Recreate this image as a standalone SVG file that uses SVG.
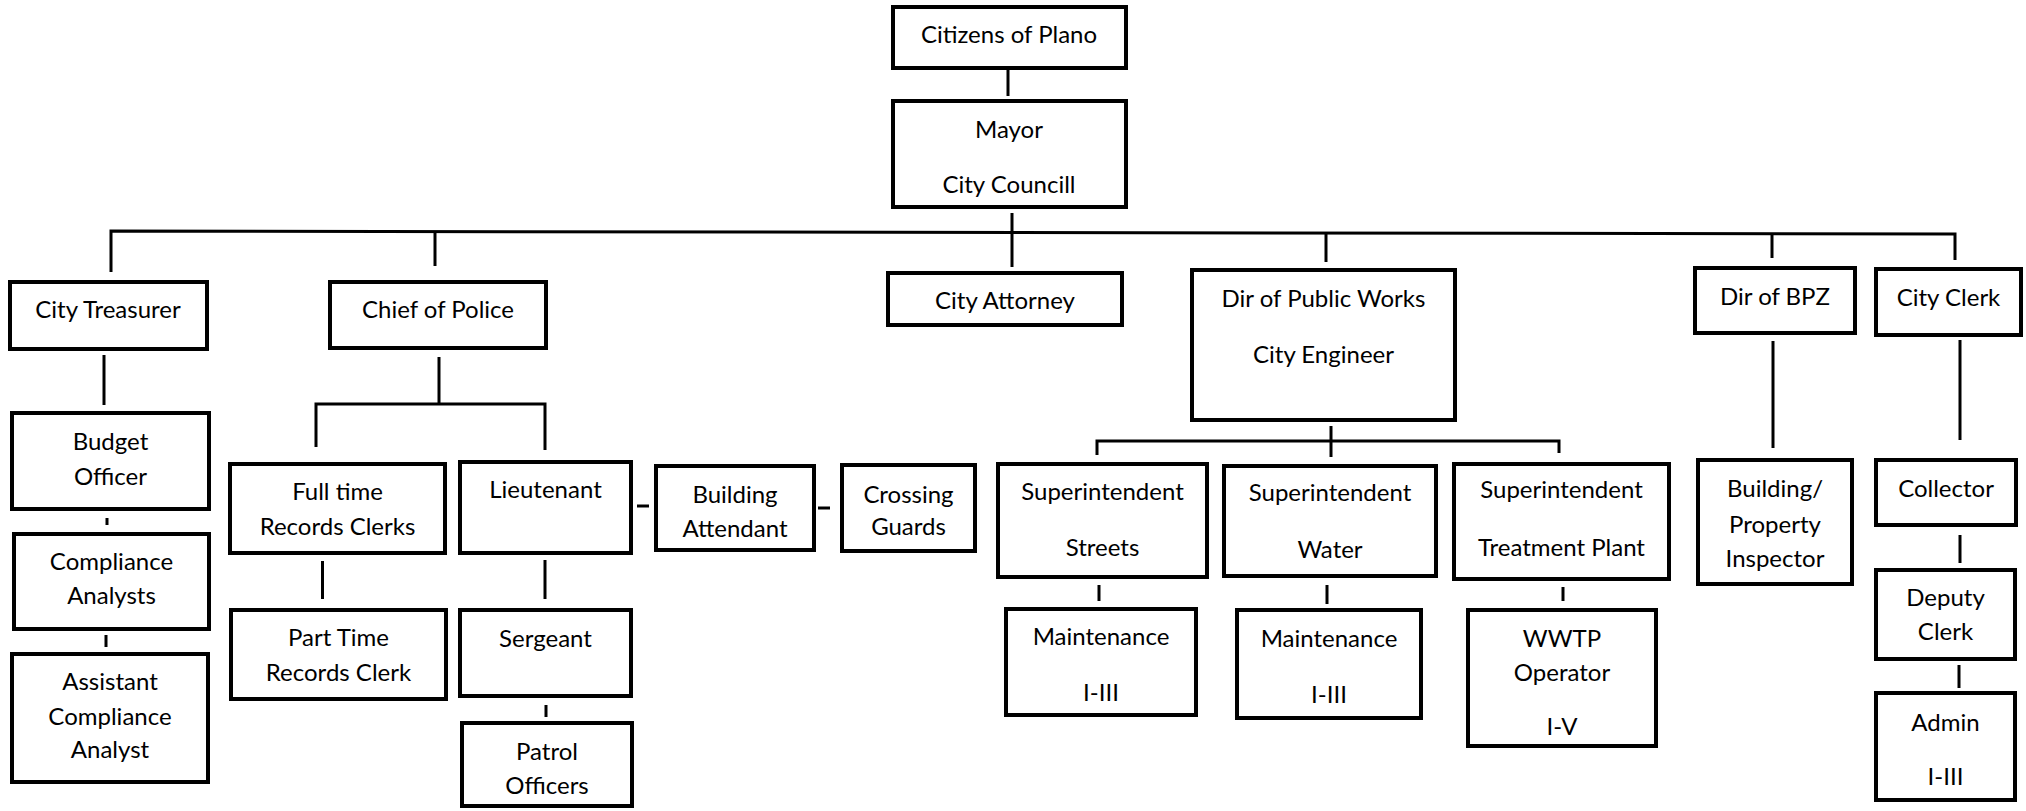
<svg xmlns="http://www.w3.org/2000/svg" width="2026" height="811" viewBox="0 0 2026 811">
<style>
rect.box{fill:#fff;stroke:#000;stroke-width:4}
text{font-family:Lato,"Open Sans","Liberation Sans",sans-serif;font-size:24px;fill:#000;text-anchor:middle}
.conn line,.conn polyline{stroke:#000;stroke-width:3;fill:none}
</style>
<rect width="2026" height="811" fill="#fff"/>
<g class="conn" id="connectors">
<line x1="1008" y1="70" x2="1008" y2="96"/>
<line x1="1012" y1="213" x2="1012" y2="267"/>
<polyline points="111,272 111,231 1955,234 1955,260"/>
<line x1="435" y1="232" x2="435" y2="266"/>
<line x1="1326" y1="233" x2="1326" y2="262"/>
<line x1="1772" y1="233" x2="1772" y2="258"/>
<line x1="104" y1="355" x2="104" y2="405"/>
<line x1="107" y1="518" x2="107" y2="525"/>
<line x1="106" y1="635" x2="106" y2="647"/>
<line x1="439" y1="357" x2="439" y2="404"/>
<polyline points="316,447 316,404 545,404 545,450"/>
<line x1="322.5" y1="561" x2="322.5" y2="599"/>
<line x1="545" y1="560" x2="545" y2="599"/>
<line x1="546" y1="705" x2="546" y2="717"/>
<line x1="637" y1="506" x2="649" y2="506"/>
<line x1="818" y1="508" x2="830" y2="508"/>
<line x1="1331" y1="426" x2="1331" y2="457"/>
<polyline points="1097,455 1097,441 1559,441 1559,453"/>
<line x1="1099" y1="585" x2="1099" y2="601"/>
<line x1="1327" y1="585" x2="1327" y2="604"/>
<line x1="1563" y1="587" x2="1563" y2="601"/>
<line x1="1773" y1="341" x2="1773" y2="448"/>
<line x1="1960" y1="340" x2="1960" y2="440"/>
<line x1="1960" y1="535" x2="1960" y2="563"/>
<line x1="1959" y1="665" x2="1959" y2="688"/>
</g>
<g id="citizens"><rect class="box" x="893" y="7" width="233" height="61"/><text x="1009" y="43">Citizens of Plano</text></g>
<g id="mayor"><rect class="box" x="893" y="101" width="233" height="106"/><text x="1009" y="138">Mayor</text><text x="1009" y="193">City Councill</text></g>
<g id="treasurer"><rect class="box" x="10" y="282" width="197" height="67"/><text x="108" y="318">City Treasurer</text></g>
<g id="police"><rect class="box" x="330" y="282" width="216" height="66"/><text x="438" y="318">Chief of Police</text></g>
<g id="attorney"><rect class="box" x="888" y="273" width="234" height="52"/><text x="1005" y="309">City Attorney</text></g>
<g id="publicworks"><rect class="box" x="1192" y="270" width="263" height="150"/><text x="1323.5" y="307">Dir of Public Works</text><text x="1323.5" y="363">City Engineer</text></g>
<g id="bpz"><rect class="box" x="1695" y="268" width="160" height="65"/><text x="1775" y="305">Dir of BPZ</text></g>
<g id="clerk"><rect class="box" x="1876" y="269" width="145" height="66"/><text x="1948.5" y="306">City Clerk</text></g>
<g id="budget"><rect class="box" x="12" y="413" width="197" height="96"/><text x="110.5" y="450">Budget</text><text x="110.5" y="485">Officer</text></g>
<g id="compliance"><rect class="box" x="14" y="534" width="195" height="95"/><text x="111.5" y="570">Compliance</text><text x="111.5" y="604">Analysts</text></g>
<g id="assistant"><rect class="box" x="12" y="654" width="196" height="128"/><text x="110" y="690">Assistant</text><text x="110" y="725">Compliance</text><text x="110" y="758">Analyst</text></g>
<g id="fulltime"><rect class="box" x="230" y="464" width="215" height="89"/><text x="337.5" y="500">Full time</text><text x="337.5" y="535">Records Clerks</text></g>
<g id="parttime"><rect class="box" x="231" y="610" width="215" height="89"/><text x="338.5" y="646">Part Time</text><text x="338.5" y="681">Records Clerk</text></g>
<g id="lieutenant"><rect class="box" x="460" y="462" width="171" height="91"/><text x="545.5" y="498">Lieutenant</text></g>
<g id="sergeant"><rect class="box" x="460" y="610" width="171" height="86"/><text x="545.5" y="647">Sergeant</text></g>
<g id="patrol"><rect class="box" x="462" y="723" width="170" height="83"/><text x="547" y="760">Patrol</text><text x="547" y="794">Officers</text></g>
<g id="buildingattendant"><rect class="box" x="656" y="466" width="158" height="84"/><text x="735" y="503">Building</text><text x="735" y="537">Attendant</text></g>
<g id="crossing"><rect class="box" x="842" y="465" width="133" height="86"/><text x="908.5" y="503">Crossing</text><text x="908.5" y="535">Guards</text></g>
<g id="supstreets"><rect class="box" x="998" y="464" width="209" height="113"/><text x="1102.5" y="500">Superintendent</text><text x="1102.5" y="556">Streets</text></g>
<g id="supwater"><rect class="box" x="1224" y="466" width="212" height="110"/><text x="1330" y="501">Superintendent</text><text x="1330" y="558">Water</text></g>
<g id="suptreatment"><rect class="box" x="1454" y="464" width="215" height="115"/><text x="1561.5" y="498">Superintendent</text><text x="1561.5" y="556">Treatment Plant</text></g>
<g id="maintstreets"><rect class="box" x="1006" y="609" width="190" height="106"/><text x="1101" y="645">Maintenance</text><text x="1101" y="701">I-III</text></g>
<g id="maintwater"><rect class="box" x="1237" y="610" width="184" height="108"/><text x="1329" y="647">Maintenance</text><text x="1329" y="703">I-III</text></g>
<g id="wwtp"><rect class="box" x="1468" y="610" width="188" height="136"/><text x="1562" y="647">WWTP</text><text x="1562" y="681">Operator</text><text x="1562" y="735">I-V</text></g>
<g id="inspector"><rect class="box" x="1698" y="460" width="154" height="124"/><text x="1775" y="497">Building/</text><text x="1775" y="533">Property</text><text x="1775" y="567">Inspector</text></g>
<g id="collector"><rect class="box" x="1876" y="460" width="140" height="65"/><text x="1946" y="497">Collector</text></g>
<g id="deputy"><rect class="box" x="1876" y="570" width="139" height="89"/><text x="1945.5" y="606">Deputy</text><text x="1945.5" y="640">Clerk</text></g>
<g id="admin"><rect class="box" x="1876" y="693" width="139" height="107"/><text x="1945.5" y="731">Admin</text><text x="1945.5" y="785">I-III</text></g>
</svg>
